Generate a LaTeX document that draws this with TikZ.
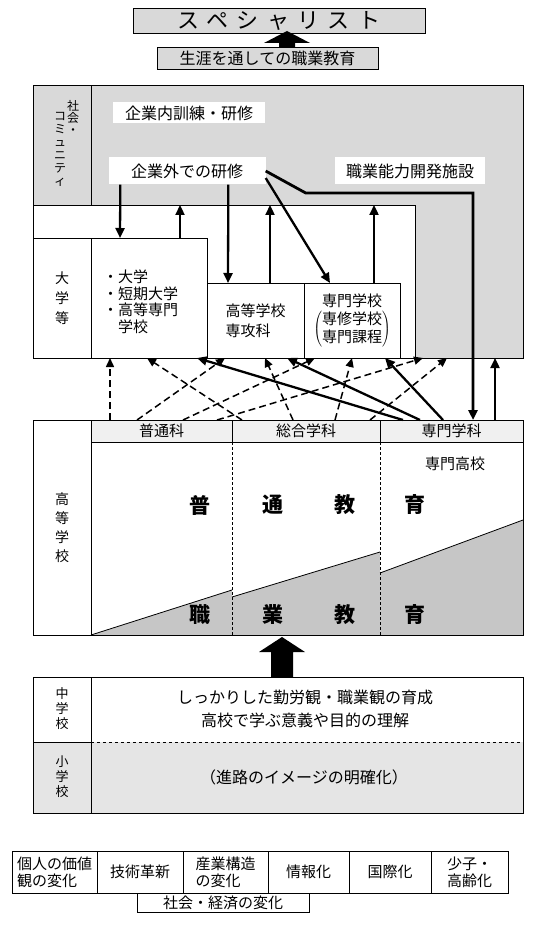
\documentclass[tikz,border=0pt]{standalone}
\usepackage{fontspec}
\setmainfont{Noto Sans CJK JP}
\usetikzlibrary{arrows.meta}

\tikzset{
  cell/.style={draw=black, line width=0.8pt, anchor=north west, inner sep=0pt, outer sep=0pt},
  lbl/.style={inner sep=0pt, font=\fontsize{15}{18}\selectfont},
  vlbl/.style={align=center, font=\fontsize{14}{20}\selectfont},
  plate/.style={fill=white, inner sep=0pt, font=\fontsize{16}{16}\selectfont},
  bigch/.style={inner sep=0pt, font=\fontsize{21}{21}\selectfont\bfseries},
  solidarr/.style={line width=2.3pt, -{Triangle[length=10pt,width=9pt]}},
  dasharr/.style={line width=1.5pt, dash pattern=on 7pt off 4pt, -{Triangle[length=9pt,width=8pt]}},
}

\begin{document}
\begin{tikzpicture}[x=1pt,y=-1pt]
\useasboundingbox (0,0) rectangle (548,925);

\node[cell, fill=gray!30, minimum width=292pt, minimum height=25pt, font=\fontsize{22}{22}\selectfont\addfontfeatures{LetterSpace=38}] (spec) at (133,8) {スペシャリスト};
\node[cell, fill=gray!30, minimum width=221pt, minimum height=22pt, font=\fontsize{16}{16}\selectfont] (career) at (157,47) {生涯を通しての職業教育};
\fill (287,31) -- (310,43) -- (295,43) -- (295,47) -- (279,47) -- (279,43) -- (264,43) -- cycle;

\node[cell, fill=gray!30, minimum width=490pt, minimum height=273pt] (soc) at (33,85) {};
\node[cell, minimum width=58pt, minimum height=120pt] (soclbl) at (33,85) {};
\node[vlbl, font=\fontsize{12}{12}\selectfont] (socA) at (73,117) {社\\会\\・};
\node[vlbl, font=\fontsize{12}{13}\selectfont] (socB) at (60,149) {コ\\ミ\\ュ\\ニ\\テ\\ィ};
\node[cell, fill=white, minimum width=382pt, minimum height=153pt] (inst) at (33,205) {};
\node[plate, minimum width=152pt, minimum height=21pt] (naibu) at (189,113) {企業内訓練・研修};
\node[plate, minimum width=157pt, minimum height=27pt] (gaibu) at (187,171) {企業外での研修};
\node[plate, minimum width=150pt, minimum height=27pt] (kaihatsu) at (410,171) {職業能力開発施設};

\node[cell, vlbl, minimum width=58pt, minimum height=120pt] (univlbl) at (33,238) {大\\学\\等};
\node[cell, minimum width=116pt, minimum height=120pt] (univ) at (91,238) {};
\node[lbl, align=left, anchor=north west, font=\fontsize{15}{16.5}\selectfont] (univlist) at (103,270) {・大学\\・短期大学\\・高等専門\\　学校};
\node[cell, minimum width=97pt, minimum height=75pt, align=left, font=\fontsize{15}{20}\selectfont] (senko) at (207,283) {高等学校\\専攻科};
\node[cell, minimum width=96pt, minimum height=75pt, font=\fontsize{15}{18}\selectfont] (senmon) at (304,283) {\begin{tabular}{@{}c@{}}専門学校\\$\left(\begin{tabular}{@{}c@{}}専修学校\\専門課程\end{tabular}\right)$\end{tabular}};

\draw[solidarr] ([xshift=12pt]gaibu.south west) -- ([xshift=29pt]univ.north west);
\draw[solidarr] ([xshift=89pt]univ.north west) -- ([xshift=147pt]inst.north west);
\draw[solidarr] ([xshift=120pt]gaibu.south west) -- ([xshift=21pt]senko.north west);
\draw[solidarr] ([xshift=63pt]senko.north west) -- ([xshift=237pt]inst.north west);
\draw[solidarr] ([yshift=-7pt]gaibu.east) -- ([xshift=26pt]senmon.north west);
\draw[solidarr] ([xshift=70pt]senmon.north west) -- ([xshift=341pt]inst.north west);

\fill[gray!45] (91,635) -- (232,590) -- (232,635) -- cycle;
\fill[gray!45] (232,597) -- (380,552) -- (380,635) -- (232,635) -- cycle;
\fill[gray!45] (380,573) -- (523,520) -- (523,635) -- (380,635) -- cycle;
\draw[line width=0.8pt] (91,635) -- (232,590) (232,597) -- (380,552) (380,573) -- (523,520);
\draw[densely dashed, line width=0.6pt] (232,442) -- (232,635) (380,442) -- (380,635);
\node[cell, vlbl, minimum width=58pt, minimum height=215pt, font=\fontsize{14}{19}\selectfont] (hslbl) at (33,420) {高\\等\\学\\校};
\node[cell, lbl, fill=gray!12, minimum width=141pt, minimum height=22pt] (futsu) at (91,420) {普通科};
\node[cell, lbl, fill=gray!12, minimum width=148pt, minimum height=22pt] (sogo) at (232,420) {総合学科};
\node[cell, lbl, fill=gray!12, minimum width=143pt, minimum height=22pt] (senmongk) at (380,420) {専門学科};
\node[cell, minimum width=432pt, minimum height=193pt] (hsbody) at (91,442) {};
\foreach \ch/\x [count=\i] in {普/200,通/273,教/345,育/415}
  \node[bigch] (ippan\i) at (\x,505) {\ch};
\foreach \ch/\x [count=\i] in {職/200,業/273,教/345,育/415}
  \node[bigch] (shoku\i) at (\x,615) {\ch};
\node[lbl] (senkoko) at (455,464) {専門高校};

\draw[dasharr] ([xshift=19pt]futsu.north west) -- ([xshift=19pt]univ.south west);
\draw[dasharr] ([xshift=46pt]futsu.north west) -- ([xshift=18pt]senko.south west);
\draw[dasharr] ([xshift=92pt]futsu.north west) -- ([xshift=11pt]senmon.south west);
\draw[dasharr] ([xshift=126pt]futsu.north west) -- ([xshift=390pt]soc.south west);
\draw[dasharr] ([xshift=10pt]sogo.north west) -- ([xshift=56pt]univ.south west);
\draw[dasharr] ([xshift=61pt]sogo.north west) -- ([xshift=58pt]senko.south west);
\draw[dasharr] ([xshift=103pt]sogo.north west) -- ([xshift=48pt]senmon.south west);
\draw[dasharr] ([xshift=138pt]sogo.north west) -- ([xshift=414pt]soc.south west);
\draw[solidarr] ([xshift=23pt]senmongk.north west) -- ([xshift=106pt]univ.south west);
\draw[solidarr] ([xshift=40pt]senmongk.north west) -- ([xshift=80pt]senko.south west);
\draw[solidarr] ([xshift=63pt]senmongk.north west) -- ([xshift=81pt]senmon.south west);
\draw[solidarr, line width=2.8pt] (gaibu.east) -- ++(40,22) -| ([xshift=93pt]senmongk.north west);
\draw[solidarr] ([xshift=115pt]senmongk.north west) -- ([xshift=462pt]soc.south west);

\fill (282,637) -- (305,652) -- (293,652) -- (293,677) -- (271,677) -- (271,652) -- (259,652) -- cycle;

\fill[gray!20] (33,742) rectangle (523,813);
\node[cell, minimum width=490pt, minimum height=136pt] (school) at (33,677) {};
\draw[line width=0.8pt] (91,677) -- (91,813) (33,742) -- (91,742);
\draw[dashed, line width=0.7pt] (91,742) -- (523,742);
\node[vlbl, font=\fontsize{13}{15}\selectfont] (chu) at (62,709) {中\\学\\校};
\node[vlbl, font=\fontsize{13}{15}\selectfont] (sho) at (62,777) {小\\学\\校};
\node[lbl, align=center, font=\fontsize{16}{23}\selectfont] (chutxt) at (305,709) {しっかりした勤労観・職業観の育成\\高校で学ぶ意義や目的の理解};
\node[lbl, font=\fontsize{16}{16}\selectfont] (shotxt) at (304,777) {（進路のイメージの明確化）};

\foreach \t/\x/\w [count=\i] in {{個人の価値\\観の変化}/12/85, 技術革新/97/86, {産業構造\\の変化}/183/85, 情報化/268/81, 国際化/349/82, {少子・\\高齢化}/431/77}
  \node[cell, minimum width=\w pt, minimum height=42pt, align=left, font=\fontsize{15}{17}\selectfont] (chg\i) at (\x,851) {\t};
\node[cell, minimum width=172pt, minimum height=19pt, font=\fontsize{15}{15}\selectfont] (shakai) at (137,893) {社会・経済の変化};
\end{tikzpicture}
\end{document}
